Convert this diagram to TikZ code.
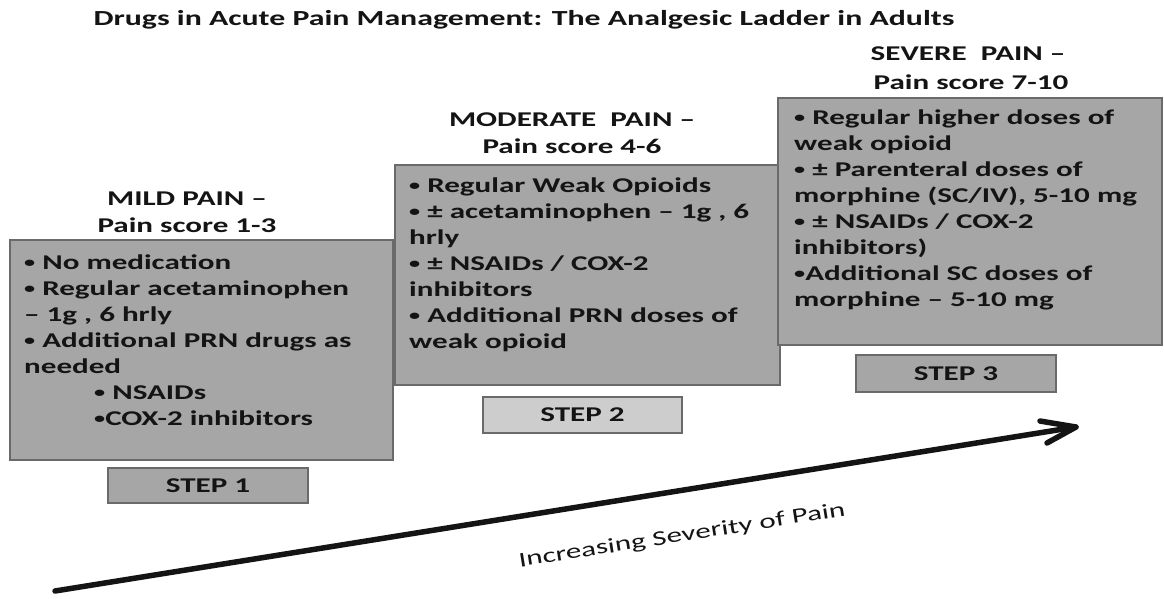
\documentclass[tikz,border=0pt]{standalone}
\usepackage{fontspec}
\setmainfont{Carlito}[FakeStretch=1.48]
\usetikzlibrary{arrows.meta}
\definecolor{boxfill}{HTML}{A6A6A6}
\definecolor{boxline}{HTML}{6A6A6A}
\definecolor{steplight}{HTML}{CDCDCD}
\definecolor{inkc}{HTML}{141414}
\newcommand{\bxt}[2]{\parbox[t]{#1}{\raggedright #2}}
\newcommand{\bul}{{\fontsize{15}{15}\selectfont\raisebox{1.5pt}{•}}}
\begin{document}
\begin{tikzpicture}[x=1pt,y=-1pt,
  ladderbox/.style={draw=boxline, fill=boxfill, line width=1.4pt},
  stepbox/.style={draw=boxline, fill=boxfill, line width=1.4pt,
     font=\bfseries\fontsize{21}{26}\selectfont, text=inkc},
  headtxt/.style={font=\bfseries\fontsize{21}{26}\selectfont, text=inkc, align=center, inner sep=0pt},
  bodytxt/.style={font=\bfseries\fontsize{21}{26}\selectfont, text=inkc, anchor=base west, inner sep=0pt},
  arrowline/.style={line width=5.5pt, line cap=round, line join=round, color=inkc},
]
\useasboundingbox (0,0) rectangle (1164,598);

% title
\node[font=\bfseries\fontsize{21.5}{24}\selectfont, text=inkc, inner sep=0pt] (title) at (524,20)
  {Drugs in Acute Pain Management: The Analgesic Ladder in Adults};

% boxes
\path[ladderbox] (10,240) rectangle (393,460);
\node[inner sep=0pt] (b1) at (201.5,350) {};
\path[ladderbox] (395,165) rectangle (780,385);
\node[inner sep=0pt] (b2) at (587.5,275) {};
\path[ladderbox] (778,98) rectangle (1162,345);
\node[inner sep=0pt] (b3) at (970,221) {};

% headers
\node[headtxt] (h1a) at (187,199) {MILD PAIN --};
\node[headtxt] (h1b) at (187,225) {Pain score 1-3};
\node[headtxt] (h2a) at (572,120) {MODERATE\ \ PAIN --};
\node[headtxt] (h2b) at (572,146) {Pain score 4-6};
\node[headtxt] (h3a) at (968,54) {SEVERE\ \ PAIN --};
\node[headtxt] (h3b) at (971,82) {Pain score 7-10};

% body texts
\node[bodytxt] (t1) at (24,269) {\bxt{370pt}{%
\bul\ No medication\\
\bul\ Regular acetaminophen\\
-- 1g , 6 hrly\\
\bul\ Additional PRN drugs as\\
needed\\
\hspace*{70pt}\bul\ NSAIDs\\
\hspace*{70pt}\bul COX-2 inhibitors}};

\node[bodytxt] (t2) at (409,192) {\bxt{370pt}{%
\bul\ Regular Weak Opioids\\
\bul\ ± acetaminophen -- 1g , 6\\
hrly\\
\bul\ ± NSAIDs / COX-2\\
inhibitors\\
\bul\ Additional PRN doses of\\
weak opioid}};

\node[bodytxt] (t3) at (794,124) {\bxt{370pt}{%
\bul\ Regular higher doses of\\
weak opioid\\
\bul\ ± Parenteral doses of\\
morphine (SC/IV), 5-10 mg\\
\bul\ ± NSAIDs / COX-2\\
inhibitors)\\
\bul Additional SC doses of\\
morphine -- 5-10 mg}};

% step boxes
\node[stepbox, minimum width=200pt, minimum height=35pt, inner sep=0pt] (s1) at (208,485.5) {STEP 1};
\node[stepbox, fill=steplight, minimum width=199pt, minimum height=36pt, inner sep=0pt] (s2) at (582.5,415) {STEP 2};
\node[stepbox, minimum width=200pt, minimum height=37pt, inner sep=0pt] (s3) at (956,373.5) {STEP 3};

% arrow
\coordinate (a0) at (55,591);
\coordinate (a1) at (1076,427);
\draw[arrowline] (a0) -- (a1);
\draw[arrowline] ([shift={(-36,-6)}]a1) -- (a1) -- ([shift={(-29,16)}]a1);
\node[font=\fontsize{21}{26}\selectfont, text=inkc, rotate=9, inner sep=0pt] (lbl) at (682,536)
  {Increasing Severity of Pain};
\end{tikzpicture}
\end{document}
